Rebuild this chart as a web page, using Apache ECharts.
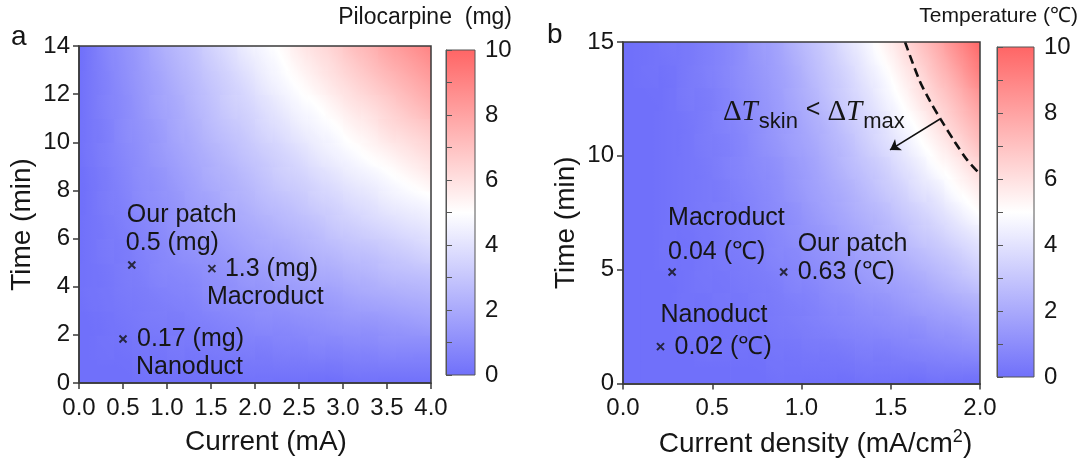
<!DOCTYPE html>
<html><head><meta charset="utf-8">
<script src="https://cdn.jsdelivr.net/npm/echarts@6/dist/echarts.min.js"></script>
<style>html,body{margin:0;padding:0;background:#fff}#c{width:1083px;height:463px}</style>
</head><body><div id="c"></div>
<script>
// ---------------- DATA ----------------
// Panel a: cell centres
const currentA = [0.1,0.3,0.5,0.7,0.9,1.1,1.3,1.5,1.7,1.9,2.1,2.3,2.5,2.7,2.9,3.1,3.3,3.5,3.7,3.9];
const timeA = [0.5,1.5,2.5,3.5,4.5,5.5,6.5,7.5,8.5,9.5,10.5,11.5,12.5,13.5];
// Pilocarpine (mg), one row per time value (bottom -> top)
const pilocarpine = [
 [0.0,0.0,0.0,0.1,0.1,0.1,0.1,0.1,0.1,0.2,0.2,0.2,0.2,0.2,0.2,0.3,0.3,0.3,0.3,0.3],
 [0.0,0.1,0.1,0.2,0.2,0.3,0.3,0.4,0.4,0.5,0.5,0.6,0.6,0.7,0.7,0.8,0.8,0.9,0.9,0.9],
 [0.0,0.1,0.2,0.3,0.4,0.4,0.5,0.6,0.7,0.8,0.9,0.9,1.0,1.1,1.2,1.3,1.3,1.4,1.5,1.6],
 [0.1,0.2,0.3,0.4,0.5,0.6,0.7,0.9,1.0,1.1,1.2,1.3,1.4,1.5,1.6,1.8,1.9,2.0,2.1,2.2],
 [0.1,0.2,0.4,0.5,0.7,0.8,0.9,1.1,1.2,1.4,1.5,1.7,1.8,2.0,2.1,2.3,2.4,2.6,2.7,2.8],
 [0.1,0.3,0.4,0.6,0.8,1.0,1.2,1.3,1.5,1.7,1.9,2.0,2.2,2.4,2.6,2.8,2.9,3.1,3.3,3.5],
 [0.1,0.3,0.5,0.7,0.9,1.2,1.4,1.6,1.8,2.0,2.2,2.4,2.6,2.8,3.1,3.3,3.5,3.7,3.9,4.1],
 [0.1,0.4,0.6,0.9,1.1,1.3,1.6,1.8,2.1,2.3,2.6,2.8,3.0,3.3,3.5,3.8,4.0,4.3,4.5,4.7],
 [0.1,0.4,0.7,1.0,1.2,1.5,1.8,2.1,2.3,2.6,2.9,3.2,3.4,3.7,4.0,4.3,4.5,4.8,5.1,5.4],
 [0.2,0.5,0.8,1.1,1.4,1.7,2.0,2.3,2.6,2.9,3.2,3.5,3.8,4.2,4.5,4.8,5.1,5.4,5.7,6.0],
 [0.2,0.5,0.9,1.2,1.5,1.9,2.2,2.6,2.9,3.2,3.6,3.9,4.3,4.6,4.9,5.3,5.6,6.0,6.3,6.6],
 [0.2,0.6,0.9,1.3,1.7,2.0,2.4,2.8,3.2,3.5,3.9,4.3,4.7,5.0,5.4,5.8,6.1,6.5,6.9,7.3],
 [0.2,0.6,1.0,1.4,1.8,2.2,2.6,3.0,3.4,3.8,4.3,4.7,5.1,5.5,5.9,6.3,6.7,7.1,7.5,7.9],
 [0.2,0.7,1.1,1.5,2.0,2.4,2.8,3.3,3.7,4.2,4.6,5.0,5.5,5.9,6.3,6.8,7.2,7.7,8.1,8.5]
];
// Panel b: cell centres
const densityB = [0.05,0.15,0.25,0.35,0.45,0.55,0.65,0.75,0.85,0.95,1.05,1.15,1.25,1.35,1.45,1.55,1.65,1.75,1.85,1.95];
const timeB = [0.5,1.5,2.5,3.5,4.5,5.5,6.5,7.5,8.5,9.5,10.5,11.5,12.5,13.5,14.5];
// Temperature rise (°C), one row per time value (bottom -> top)
const temperature = [
 [0.0,0.0,0.0,0.0,0.0,0.0,0.0,0.0,0.1,0.1,0.1,0.1,0.1,0.2,0.2,0.2,0.2,0.3,0.3,0.3],
 [0.0,0.0,0.0,0.0,0.1,0.1,0.1,0.1,0.2,0.2,0.3,0.3,0.4,0.5,0.5,0.6,0.7,0.8,0.9,1.0],
 [0.0,0.0,0.0,0.1,0.1,0.1,0.2,0.2,0.3,0.4,0.5,0.6,0.7,0.8,0.9,1.0,1.1,1.3,1.4,1.6],
 [0.0,0.0,0.0,0.1,0.1,0.2,0.2,0.3,0.4,0.5,0.6,0.8,0.9,1.1,1.2,1.4,1.6,1.8,2.0,2.2],
 [0.0,0.0,0.0,0.1,0.2,0.2,0.3,0.4,0.5,0.7,0.8,1.0,1.2,1.4,1.6,1.8,2.0,2.3,2.6,2.9],
 [0.0,0.0,0.1,0.1,0.2,0.3,0.4,0.5,0.7,0.8,1.0,1.2,1.4,1.7,1.9,2.2,2.5,2.8,3.1,3.5],
 [0.0,0.0,0.1,0.1,0.2,0.3,0.5,0.6,0.8,1.0,1.2,1.4,1.7,2.0,2.3,2.6,3.0,3.3,3.7,4.1],
 [0.0,0.0,0.1,0.2,0.3,0.4,0.5,0.7,0.9,1.1,1.4,1.7,2.0,2.3,2.6,3.0,3.4,3.8,4.3,4.8],
 [0.0,0.0,0.1,0.2,0.3,0.4,0.6,0.8,1.0,1.3,1.6,1.9,2.2,2.6,3.0,3.4,3.9,4.3,4.9,5.4],
 [0.0,0.0,0.1,0.2,0.3,0.5,0.7,0.9,1.1,1.4,1.7,2.1,2.5,2.9,3.3,3.8,4.3,4.9,5.4,6.0],
 [0.0,0.0,0.1,0.2,0.4,0.5,0.7,1.0,1.3,1.6,1.9,2.3,2.7,3.2,3.7,4.2,4.8,5.4,6.0,6.7],
 [0.0,0.0,0.1,0.2,0.4,0.6,0.8,1.1,1.4,1.7,2.1,2.5,3.0,3.5,4.0,4.6,5.2,5.9,6.6,7.3],
 [0.0,0.0,0.1,0.3,0.4,0.6,0.9,1.2,1.5,1.9,2.3,2.8,3.3,3.8,4.4,5.0,5.7,6.4,7.1,7.9],
 [0.0,0.1,0.1,0.3,0.5,0.7,1.0,1.3,1.6,2.0,2.5,3.0,3.5,4.1,4.7,5.4,6.1,6.9,7.7,8.6],
 [0.0,0.1,0.2,0.3,0.5,0.7,1.0,1.4,1.7,2.2,2.7,3.2,3.8,4.4,5.1,5.8,6.6,7.4,8.3,9.2]
];
// Tick labels
const xTicksA = ['0.0','0.5','1.0','1.5','2.0','2.5','3.0','3.5','4.0'];
const yTicksA = ['0','2','4','6','8','10','12','14'];
const xTicksB = ['0.0','0.5','1.0','1.5','2.0'];
const yTicksB = ['0','5','10','15'];
const cbTicks = ['0','2','4','6','8','10'];
// Device markers, panel a
const devNamesA = ['Our patch','Macroduct','Nanoduct'];
const devXA = [0.60, 1.51, 0.50];
const devYA = [4.9, 4.75, 1.83];
const devValA = ['0.5 (mg)','1.3 (mg)','0.17 (mg)'];
// Device markers, panel b
const devNamesB = ['Macroduct','Our patch','Nanoduct'];
const devXB = [0.275, 0.90, 0.21];
const devYB = [4.9, 4.9, 1.62];
const devValB = ['0.04 (\u2103)','0.63 (\u2103)','0.02 (\u2103)'];
// Temperature limit curve (dashed), panel b
const limitJ = [1.58,1.66,1.72,1.78,1.86,1.93,2.00];
const limitT = [15.0,13.33,12.4,11.6,10.6,9.8,9.2];
const arrowFrom = [1.776, 11.62];
const arrowTo = [1.496, 10.26];
const limitLabelAt = [0.56, 11.9];

// ---------------- CHART ----------------
const FONT = "'Liberation Sans', Arial, sans-serif";
const SERIF = "'Liberation Serif', 'Times New Roman', serif";
const TXT = '#161616', AX = '#3a3a3a';
const BLUE = [112, 112, 250], WHITE = [255, 255, 255], RED = [255, 101, 101];
const hex = c => 'rgb(' + c.map(Math.round).join(',') + ')';
function cmap(v) {
  v = Math.max(0, Math.min(10, v));
  const a = v <= 5 ? BLUE : WHITE, b = v <= 5 ? WHITE : RED, t = v <= 5 ? v / 5 : (v - 5) / 5;
  return hex([0, 1, 2].map(k => a[k] + (b[k] - a[k]) * t));
}
const chart = echarts.init(document.getElementById('c'));

function cellData(xs, ys, rows) {
  const d = [];
  rows.forEach((r, j) => r.forEach((v, i) => d.push([xs[i], ys[j], v])));
  return d;
}
// each cell is shaded along the local gradient of its neighbouring read values (smooth shading)
function cellRender(xs, ys, rows) {
  const dx = xs[1] - xs[0], dy = ys[1] - ys[0], nx = xs.length, ny = ys.length;
  return function (params, api) {
    const idx = params.dataIndex, i = idx % nx, j = Math.floor(idx / nx);
    const x = api.value(0), y = api.value(1), v = api.value(2);
    const p0 = api.coord([x - dx / 2, y + dy / 2]);
    const p1 = api.coord([x + dx / 2, y - dy / 2]);
    const pc = api.coord([x, y]);
    const W = p1[0] - p0[0], H = p1[1] - p0[1];
    const i0 = Math.max(i - 1, 0), i1 = Math.min(i + 1, nx - 1);
    const j0 = Math.max(j - 1, 0), j1 = Math.min(j + 1, ny - 1);
    const gx = (rows[j][i1] - rows[j][i0]) / ((i1 - i0) * W);
    const gy = -(rows[j1][i] - rows[j0][i]) / ((j1 - j0) * H);
    const g = Math.hypot(gx, gy);
    let fill;
    if (g < 1e-9) fill = cmap(v);
    else {
      const ux = gx / g, uy = gy / g;
      const L = (Math.abs(ux) * (W + 1) + Math.abs(uy) * (H + 1)) / 2;
      const stops = [];
      for (let k = 0; k <= 6; k++) stops.push({ offset: k / 6, color: cmap(v - g * L + 2 * g * L * k / 6) });
      fill = { type: 'linear', global: true, x: pc[0] - ux * L, y: pc[1] - uy * L, x2: pc[0] + ux * L, y2: pc[1] + uy * L, colorStops: stops };
    }
    return { type: 'rect', shape: { x: p0[0], y: p0[1], width: W + 0.8, height: H + 0.8 }, style: { fill: fill } };
  };
}
function mainX(gi, max, interval, labels, name, shift) {
  return { gridIndex: gi, type: 'value', min: 0, max: max, interval: interval, z: 10,
    axisLine: { show: true, onZero: false, lineStyle: { color: AX, width: 1.5 } },
    axisTick: { show: true, length: 6, lineStyle: { color: AX, width: 1.5 } },
    axisLabel: { color: TXT, fontSize: 24, fontFamily: FONT, margin: 13,
      formatter: v => labels[Math.round(v / interval)] },
    splitLine: { show: false },
    name: name, nameLocation: 'middle', nameGap: 45,
    nameTextStyle: { color: TXT, fontSize: 28, fontFamily: FONT, padding: [0, 0, 0, shift * 2],
      rich: { n: { fontSize: 28, fontFamily: FONT, color: TXT },
              sup: { fontSize: 18, fontFamily: FONT, color: TXT, padding: [0, 0, 13, 0] } } } };
}
function mainY(gi, max, interval, labels, name) {
  return { gridIndex: gi, type: 'value', min: 0, max: max, interval: interval, z: 10,
    axisLine: { show: true, onZero: false, lineStyle: { color: AX, width: 1.5 } },
    axisTick: { show: true, length: 6, lineStyle: { color: AX, width: 1.5 } },
    axisLabel: { color: TXT, fontSize: 24, fontFamily: FONT, margin: 9,
      formatter: v => labels[Math.round(v / interval)] },
    splitLine: { show: false },
    name: name, nameLocation: 'middle', nameGap: 43,
    nameTextStyle: { color: TXT, fontSize: 28, fontFamily: FONT, padding: [0, 20, 0, 0] } };
}
function cbY(gi) {
  return { gridIndex: gi, type: 'value', min: 0, max: 10, interval: 2, position: 'right',
    axisLine: { show: true, lineStyle: { color: '#555', width: 1 } },
    axisTick: { show: true, length: 6, lineStyle: { color: '#555', width: 1 } },
    minorTick: { show: true, splitNumber: 2, length: 6, lineStyle: { color: '#555', width: 1 } },
    axisLabel: { color: TXT, fontSize: 24, fontFamily: FONT, margin: 10,
      formatter: v => cbTicks[Math.round(v / 2)] },
    splitLine: { show: false } };
}
const grad = { type: 'linear', x: 0, y: 0, x2: 0, y2: 1,
  colorStops: [{ offset: 0, color: cmap(10) }, { offset: 0.5, color: cmap(5) }, { offset: 1, color: cmap(0) }] };
const xSym = 'path://M0,0L10,10M10,0L0,10';

const gridA = { left: 79, top: 46, width: 352, height: 337 };
const gridB = { left: 623, top: 42, width: 357, height: 342 };
const option = {
  animation: false,
  backgroundColor: '#ffffff',
  grid: [
    gridA,
    { left: 446, top: 50, width: 29, height: 325, show: true, backgroundColor: grad, borderColor: '#555', borderWidth: 1 },
    gridB,
    { left: 997, top: 47, width: 37, height: 330, show: true, backgroundColor: grad, borderColor: '#555', borderWidth: 1 }
  ],
  xAxis: [
    mainX(0, 4, 0.5, xTicksA, 'Current (mA)', 11),
    { gridIndex: 1, type: 'value', show: false, min: 0, max: 1 },
    mainX(2, 2, 0.5, xTicksB, '{n|Current density (mA/cm}{sup|2}{n|)}', 14),
    { gridIndex: 3, type: 'value', show: false, min: 0, max: 1 }
  ],
  yAxis: [
    mainY(0, 14, 2, yTicksA, 'Time (min)'),
    cbY(1),
    mainY(2, 15, 5, yTicksB, 'Time (min)'),
    cbY(3)
  ],
  series: [
    { type: 'custom', xAxisIndex: 0, yAxisIndex: 0, clip: true, encode: { x: 0, y: 1 },
      renderItem: cellRender(currentA, timeA, pilocarpine), data: cellData(currentA, timeA, pilocarpine) },
    { type: 'scatter', xAxisIndex: 0, yAxisIndex: 0, symbol: xSym, symbolSize: 7, z: 5,
      itemStyle: { color: 'none', borderColor: '#111', borderWidth: 2 },
      data: devXA.map((x, i) => [x, devYA[i]]) },
    { type: 'custom', xAxisIndex: 2, yAxisIndex: 2, clip: true, encode: { x: 0, y: 1 },
      renderItem: cellRender(densityB, timeB, temperature), data: cellData(densityB, timeB, temperature) },
    { type: 'scatter', xAxisIndex: 2, yAxisIndex: 2, symbol: xSym, symbolSize: 7, z: 5,
      itemStyle: { color: 'none', borderColor: '#111', borderWidth: 2 },
      data: devXB.map((x, i) => [x, devYB[i]]) },
    { type: 'line', xAxisIndex: 2, yAxisIndex: 2, symbol: 'none', smooth: 0.3, z: 6, clip: true,
      lineStyle: { color: '#111', width: 2.6, type: [9, 5] },
      data: limitJ.map((x, i) => [x, limitT[i]]),
      markLine: { silent: true, symbol: ['none', 'arrow'], symbolSize: 10, precision: 3,
        lineStyle: { color: '#111', width: 1.6, type: 'solid' }, label: { show: false },
        data: [[{ coord: arrowFrom }, { coord: arrowTo }]] } }
  ]
};
chart.setOption(option);

// ---------------- TEXT ANNOTATIONS ----------------
const gfx = [];
function txt(x, y, s, size, align) {
  gfx.push({ type: 'text', x: x, y: y, silent: true, z: 50,
    style: { text: s, fill: TXT, fontSize: size || 25, fontFamily: FONT, align: align || 'left', verticalAlign: 'middle' } });
}
[gridA, gridB].forEach(g => gfx.push({ type: 'rect', silent: true, z: 40,
  shape: { x: g.left, y: g.top, width: g.width, height: g.height },
  style: { fill: null, stroke: AX, lineWidth: 1.5 } }));
const offA = [ { n: [-5, -50], v: [-6, -22] }, { n: [-5, 28], v: [13, 0] }, { n: [13, 28], v: [14, 0] } ];
devNamesA.forEach((n, i) => {
  const p = chart.convertToPixel({ gridIndex: 0 }, [devXA[i], devYA[i]]);
  txt(p[0] + offA[i].n[0], p[1] + offA[i].n[1], n);
  txt(p[0] + offA[i].v[0], p[1] + offA[i].v[1], devValA[i]);
});
const offB = [ { n: [-4, -54], v: [-4, -20] }, { n: [14, -28], v: [14, 0] }, { n: [0, -32], v: [14, 0] } ];
devNamesB.forEach((n, i) => {
  const p = chart.convertToPixel({ gridIndex: 2 }, [devXB[i], devYB[i]]);
  txt(p[0] + offB[i].n[0], p[1] + offB[i].n[1], n);
  txt(p[0] + offB[i].v[0], p[1] + offB[i].v[1], devValB[i]);
});
const lp = chart.convertToPixel({ gridIndex: 2 }, limitLabelAt);
gfx.push({ type: 'text', x: lp[0], y: lp[1], silent: true, z: 50,
  style: { text: '{d|\u0394}{t|T}{s|skin}{lt|<}{d|\u0394}{t|T}{s|max}', fill: TXT, align: 'left', verticalAlign: 'middle',
    rich: {
      d: { fontFamily: SERIF, fontSize: 29, fill: TXT },
      t: { fontFamily: SERIF, fontStyle: 'italic', fontSize: 29, fill: TXT },
      s: { fontFamily: FONT, fontSize: 22, fill: TXT, padding: [18, 0, 0, 1] },
      lt: { fontFamily: FONT, fontSize: 25, fill: TXT, padding: [0, 7, 4, 8] }
    } } });
txt(512, 18, 'Pilocarpine  (mg)', 23, 'right');
txt(1078, 16, 'Temperature (\u2103)', 21, 'right');
txt(11, 37, 'a', 28);
txt(547, 35, 'b', 28);
chart.setOption({ graphic: gfx });
</script>
</body></html>
